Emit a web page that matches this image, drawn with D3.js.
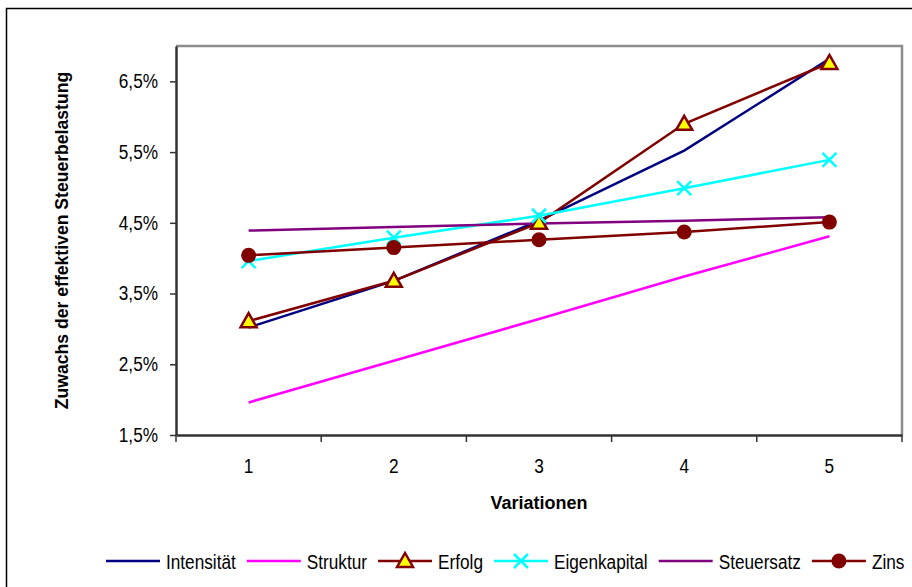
<!DOCTYPE html>
<html>
<head>
<meta charset="utf-8">
<script src="https://cdn.jsdelivr.net/npm/d3@7"></script>
<style>
  body { margin: 0; background: #fff; }
  text { font-family: "Liberation Sans", Arial, sans-serif; fill: #000; }
</style>
</head>
<body>
<svg id="chart"></svg>
<script>

var categories = ["1", "2", "3", "4", "5"];

var intensitaet  = [3.02, 3.68, 4.53, 5.52, 6.82];
var struktur     = [1.96, 2.55, 3.14, 3.74, 4.31];
var erfolg       = [3.11, 3.68, 4.50, 5.90, 6.76];
var eigenkapital = [3.96, 4.29, 4.60, 4.99, 5.39];
var steuersatz   = [4.39, 4.44, 4.49, 4.53, 4.58];
var zins         = [4.04, 4.15, 4.26, 4.37, 4.51];

var yTicks = [1.5, 2.5, 3.5, 4.5, 5.5, 6.5];

var series = [
  {name: "Intensität",   values: intensitaet,  color: "#000080", marker: null},
  {name: "Struktur",     values: struktur,     color: "#ff00ff", marker: null},
  {name: "Erfolg",       values: erfolg,       color: "#800000", marker: "triangle"},
  {name: "Eigenkapital", values: eigenkapital, color: "#00ffff", marker: "cross"},
  {name: "Steuersatz",   values: steuersatz,   color: "#800080", marker: null},
  {name: "Zins",         values: zins,         color: "#800000", marker: "circle"}
];

var width = 912;
var height = 587;
var plot = {left: 176, top: 46, right: 902, bottom: 435};

// the original uses a narrow face; squeeze the regular one
function condense(sel, k) {
  sel.each(function() {
    var w = this.getComputedTextLength();
    d3.select(this)
      .attr("textLength", w * k)
      .attr("lengthAdjust", "spacingAndGlyphs");
  });
}

var svg = d3.select("#chart")
    .attr("width", width)
    .attr("height", height);

// outer chart border (only top and left visible)
svg.append("rect")
    .attr("x", 6.5).attr("y", 8.5)
    .attr("width", 1000).attr("height", 700)
    .attr("fill", "none")
    .attr("stroke", "#000")
    .attr("stroke-width", 1.5);

var x = d3.scaleBand()
    .domain(categories)
    .range([plot.left, plot.right]);

var y = d3.scaleLinear()
    .domain([1.5, 7.0])
    .range([plot.bottom, plot.top]);

var fmt = d => d3.format(".1f")(d).replace(".", ",") + "%";

// plot frame: top/right grey
svg.append("path")
    .attr("d", `M${plot.left},${plot.top}H${plot.right}V${plot.bottom}`)
    .attr("fill", "none")
    .attr("stroke", "#8c8c8c")
    .attr("stroke-width", 2.5);

var yAxis = svg.append("g")
    .attr("transform", `translate(${plot.left},0)`)
    .call(d3.axisLeft(y).tickValues(yTicks).tickFormat(fmt).tickSize(6).tickPadding(12).tickSizeOuter(0));

var xAxis = svg.append("g")
    .attr("transform", `translate(0,${plot.bottom})`)
    .call(d3.axisBottom(x).tickSize(0).tickPadding(24).tickSizeOuter(0));

// x ticks sit at the band boundaries
xAxis.selectAll(".bound")
    .data(categories.concat(["end"]))
    .enter().append("line")
    .attr("x1", (d, i) => plot.left + i * x.step())
    .attr("x2", (d, i) => plot.left + i * x.step())
    .attr("y1", 0).attr("y2", 7)
    .attr("stroke", "#333")
    .attr("stroke-width", 1.5);

svg.selectAll(".domain")
    .attr("stroke", "#333")
    .attr("stroke-width", 2.5);
yAxis.selectAll(".tick line").attr("stroke", "#333").attr("stroke-width", 1.5);
svg.selectAll(".tick text")
    .attr("font-size", 20)
    .attr("font-family", null)
    .call(condense, 0.86);

// axis titles
svg.append("text")
    .attr("transform", `translate(68,${(plot.top + plot.bottom) / 2}) rotate(-90)`)
    .attr("text-anchor", "middle")
    .attr("font-size", 17.6)
    .attr("font-weight", "bold")
    .text("Zuwachs der effektiven Steuerbelastung");

svg.append("text")
    .attr("x", (plot.left + plot.right) / 2)
    .attr("y", 509)
    .attr("text-anchor", "middle")
    .attr("font-size", 18)
    .attr("font-weight", "bold")
    .text("Variationen");

var line = d3.line()
    .x((d, i) => x(categories[i]) + x.bandwidth() / 2)
    .y(d => y(d));

svg.append("g").selectAll("path")
    .data(series)
    .enter().append("path")
    .attr("d", d => line(d.values))
    .attr("fill", "none")
    .attr("stroke", d => d.color)
    .attr("stroke-width", 2.5);

function drawMarker(g, type, color) {
  if (type === "triangle") {
    g.append("path")
      .attr("d", "M0,-8L8,6H-8Z")
      .attr("fill", "#ffff00")
      .attr("stroke", color)
      .attr("stroke-width", 2.5)
      .attr("stroke-linejoin", "miter");
  } else if (type === "cross") {
    g.append("path")
      .attr("d", "M-7,-7L7,7M-7,7L7,-7")
      .attr("stroke", color)
      .attr("stroke-width", 2.5);
  } else if (type === "circle") {
    g.append("circle")
      .attr("r", 7.5)
      .attr("fill", color);
  }
}

series.filter(s => s.marker).forEach(function(s) {
  s.values.forEach(function(v, i) {
    var g = svg.append("g")
      .attr("transform", `translate(${x(categories[i]) + x.bandwidth() / 2},${y(v)})`);
    drawMarker(g, s.marker, s.color);
  });
});

// legend
var lx = 106;
var ly = 561;
series.forEach(function(s) {
  var g = svg.append("g").attr("transform", `translate(${lx},${ly})`);
  g.append("line")
    .attr("x1", 0).attr("x2", 54)
    .attr("stroke", s.color)
    .attr("stroke-width", 2.5);
  if (s.marker) {
    var m = g.append("g").attr("transform", "translate(27,0)");
    drawMarker(m, s.marker, s.color);
  }
  var t = g.append("text")
    .attr("x", 60)
    .attr("y", 7.5)
    .attr("font-size", 20)
    .text(s.name)
    .call(condense, 0.86);
  lx += 60 + +t.attr("textLength") + 11;
});

</script>
</body>
</html>
